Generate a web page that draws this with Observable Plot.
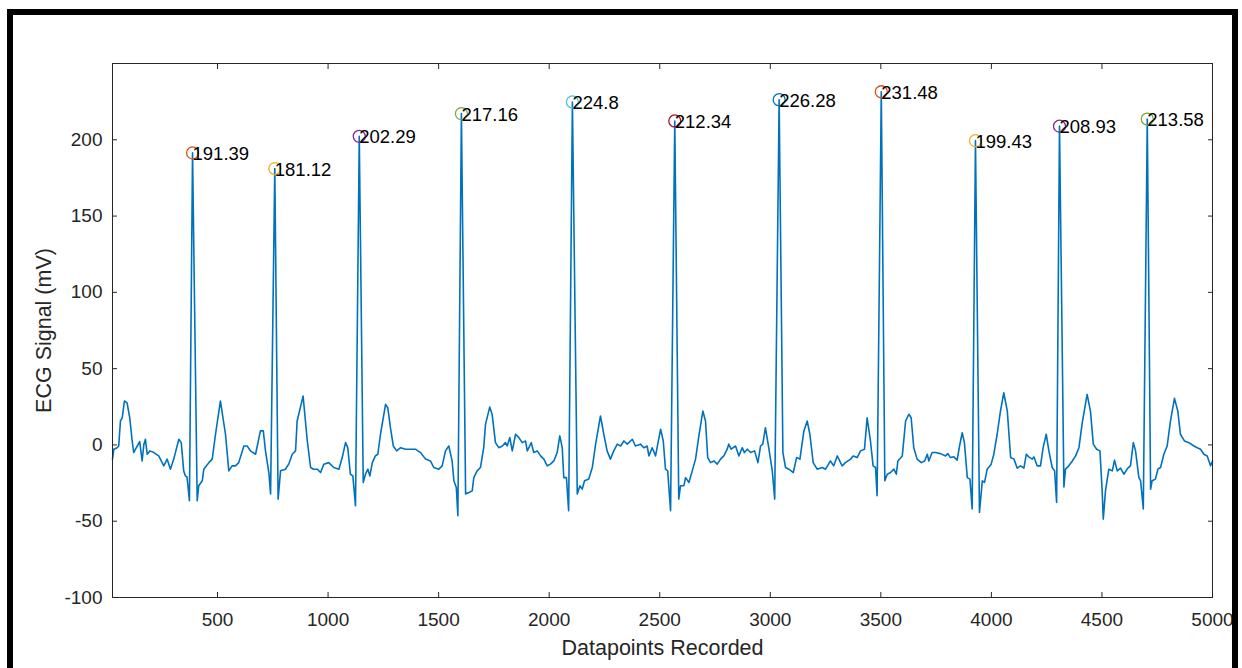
<!DOCTYPE html>
<html><head><meta charset="utf-8">
<script src="https://cdn.jsdelivr.net/npm/d3@7"></script>
<script src="https://cdn.jsdelivr.net/npm/@observablehq/plot@0.6"></script>
<style>
html,body{margin:0;padding:0;background:#fff;width:1242px;height:668px;overflow:hidden}
#chart{position:absolute;left:0;top:0}
#frame{position:absolute;left:7px;top:9px;width:1219px;height:700px;border:6px solid #000;border-bottom:none;pointer-events:none;z-index:2}
</style></head><body>
<div id="chart"></div><div id="frame"></div>
<script>
// ECG trace: [datapoint index, signal (mV)] vertices
const ecgTrace = [[25,-9.3],[31,-2.8],[46,-1.8],[53,-0.7],[61,15.7],[69,17.8],[79,28.8],[91,27.6],[103,17.8],[114,2.6],[121,-5],[129,-2.8],[137,-0.7],[148,2.2],[159,-10.5],[167,0.5],[174,3.7],[182,-6.1],[194,-3.9],[212,-5],[234,-7.2],[257,-13.7],[272,-9.3],[287,-15.9],[302,-9.3],[325,3.7],[336,1.5],[347,-17],[355,-20.3],[362,-21],[373,-36.6],[387,191.39],[408,-36.6],[415,-26.8],[431,-23.5],[438,-15.9],[450,-13.7],[461,-11.6],[476,-9.3],[491,7],[513,28.8],[536,7],[551,-17],[566,-13.7],[581,-13.7],[596,-11.6],[619,-0.7],[634,-0.7],[649,-3.9],[672,-6.1],[694,9.2],[707,9.2],[717,-3.9],[732,-18.1],[740,-32.2],[759,181.12],[774,-35.5],[785,-17],[807,-15.9],[822,-12.6],[838,-6.1],[853,-3.9],[860,15.7],[887,32],[906,2.6],[921,-14.8],[935,-15.9],[951,-15.9],[966,-18.1],[981,-12.6],[1003,-11.6],[1026,-14.8],[1049,-15.9],[1064,-8.3],[1079,1.5],[1089,-1.8],[1101,-19.2],[1112,-20.3],[1124,-39.9],[1141,202.29],[1159,-24.6],[1169,-19.2],[1180,-15.9],[1189,-20.3],[1200,-11.6],[1214,-7.2],[1225,-6.1],[1237,7],[1260,26.6],[1270,24.4],[1282,11.3],[1295,-0.7],[1310,-3.9],[1328,-1.8],[1350,-2.8],[1373,-2.8],[1395,-2.8],[1418,-5],[1441,-9.3],[1463,-10.5],[1478,-14.8],[1501,-15.9],[1516,-13.7],[1531,-3.9],[1546,-0.7],[1561,-10.5],[1569,-23.5],[1580,-27.9],[1587,-46.4],[1603,217.16],[1622,-32.2],[1637,-31.2],[1652,-30.1],[1659,-21.4],[1674,-17],[1689,-14.8],[1704,-1.8],[1712,13.5],[1731,24.8],[1742,20],[1757,1.5],[1772,-1.8],[1788,-0.7],[1802,1.5],[1810,-0.7],[1822,4.8],[1833,-3.9],[1848,7],[1863,4.8],[1878,1.5],[1893,2.6],[1901,-3.9],[1919,1.5],[1930,-5],[1946,-3.9],[1961,-7.2],[1976,-9.3],[1991,-13.7],[2006,-12.6],[2021,-10.5],[2036,-5],[2048,5.9],[2059,-1.8],[2066,-21.4],[2078,-21.4],[2088,-43.1],[2105,224.8],[2127,-32.2],[2139,-26.8],[2149,-29],[2160,-23.5],[2179,-22.4],[2195,-14.8],[2210,0.5],[2232,19],[2247,7],[2262,-3.9],[2277,-9.3],[2292,-3.9],[2308,0.5],[2323,-0.7],[2338,2.6],[2353,0.5],[2376,3.7],[2390,-0.7],[2413,0.5],[2428,-1.8],[2443,-0.7],[2451,-7.2],[2466,-1.8],[2481,-7.2],[2504,10.3],[2516,2.6],[2526,-15.9],[2536,-17],[2549,-43.1],[2568,212.34],[2586,-35.5],[2594,-26.8],[2609,-26.8],[2617,-21.4],[2632,-24.6],[2647,-17],[2662,-9.3],[2677,5.9],[2695,22.2],[2707,15.7],[2717,-8.3],[2730,-11.6],[2745,-10.5],[2760,-12.6],[2775,-9.3],[2790,-7.2],[2805,-2.8],[2812,0.5],[2823,-2.8],[2843,-0.7],[2858,-7.2],[2873,-1.8],[2883,-5],[2896,-2.8],[2911,-5],[2929,-3.9],[2944,-11.6],[2956,-0.7],[2966,0.5],[2978,11.3],[2993,-1.8],[3009,-17],[3020,-35.5],[3040,226.28],[3057,-5],[3069,-14.8],[3084,-15.9],[3104,-18.1],[3119,-8.3],[3134,-9.3],[3152,9.2],[3167,15.7],[3179,7],[3194,-11.6],[3212,-15.9],[3235,-14.8],[3250,-15.9],[3272,-10.5],[3287,-13.7],[3303,-7.2],[3325,-13.7],[3340,-11.6],[3363,-9.3],[3375,-7.2],[3393,-8.3],[3408,-3.9],[3426,-2.8],[3438,17.8],[3453,2.6],[3465,-13.7],[3476,-14.8],[3483,-33.3],[3502,231.48],[3518,-23.5],[3529,-19.2],[3544,-18.1],[3559,-15.9],[3570,-19.2],[3577,-10.5],[3597,-7.2],[3612,15.7],[3627,20.1],[3637,17.8],[3649,-1.8],[3664,-9.3],[3683,-11.6],[3698,-10.5],[3710,-6.1],[3717,-10.5],[3732,-5],[3747,-5],[3770,-5.7],[3793,-7.2],[3803,-5.7],[3815,-8.3],[3830,-7.8],[3845,-10],[3856,-0.7],[3868,8],[3878,1.5],[3891,-21.4],[3903,-22.4],[3913,-42],[3928,199.43],[3946,-44.2],[3959,-23.5],[3969,-24.6],[3981,-15.9],[3999,-12.6],[4011,-6.1],[4026,7],[4041,22.2],[4056,34.2],[4072,22.2],[4087,-8.3],[4102,-9.3],[4117,-15.2],[4132,-13.7],[4147,-15.2],[4158,-6.1],[4169,-7.8],[4185,-9.3],[4192,-7.8],[4207,-13.7],[4222,-13.7],[4234,-1.8],[4248,7],[4260,-3.9],[4275,-14.8],[4286,-17],[4295,-37.7],[4308,208.93],[4328,-27.5],[4335,-15.9],[4350,-13.7],[4366,-10.5],[4381,-7.2],[4396,-1.8],[4411,14.6],[4433,33.1],[4448,22.2],[4461,0.5],[4476,-2.8],[4491,-3.9],[4501,-30.1],[4506,-48.6],[4516,-30.1],[4531,-15.9],[4547,-17],[4557,-10],[4569,-17],[4584,-15.2],[4599,-19.2],[4617,-15.2],[4629,-13.7],[4642,1.5],[4652,-3.9],[4667,-21.4],[4675,-23.5],[4687,-42],[4705,213.58],[4720,-29],[4727,-23.5],[4742,-22.4],[4753,-15.9],[4765,-14.8],[4780,-6.1],[4795,-0.7],[4810,15.7],[4828,30.5],[4843,22.2],[4855,7],[4873,2.6],[4893,1.5],[4916,-0.7],[4931,-1.8],[4946,-2.8],[4961,-6.1],[4976,-7.2],[4991,-13.7],[5000,-10.5]];

// R peaks
const peakX = [387, 759, 1141, 1603, 2105, 2568, 3040, 3502, 3928, 4308, 4705];
const peakY = [191.39, 181.12, 202.29, 217.16, 224.8, 212.34, 226.28, 231.48, 199.43, 208.93, 213.58];
const peakLabels = ["191.39","181.12","202.29","217.16","224.8","212.34","226.28","231.48","199.43","208.93","213.58"];

// Axis ticks
const xTicks = [500, 1000, 1500, 2000, 2500, 3000, 3500, 4000, 4500, 5000];
const yTicks = [-100, -50, 0, 50, 100, 150, 200];

const xTitle = "Datapoints Recorded";
const yTitle = "ECG Signal (mV)";

// MATLAB default colour order (line uses the first, peak markers the rest in turn)
const colorOrder = ["#0072BD","#D95319","#EDB120","#7E2F8E","#77AC30","#4DBEEE","#A2142F"];

const peaks = peakX.map((x, i) => ({x, y: peakY[i], label: peakLabels[i], color: colorOrder[(i + 1) % colorOrder.length]}));
const axisColor = "#262626";
const font = "'Liberation Sans', Arial, Helvetica, sans-serif";

const chart = Plot.plot({
  width: 1242,
  height: 668,
  marginLeft: 112,
  marginRight: 30,
  marginTop: 63,
  marginBottom: 71,
  style: {fontFamily: font, fontSize: "19px", color: axisColor, background: "transparent"},
  x: {domain: [25, 5000]},
  y: {domain: [-100, 250]},
  marks: [
    Plot.line(ecgTrace, {x: d => d[0], y: d => d[1], stroke: colorOrder[0], strokeWidth: 1.6}),
    Plot.frame({stroke: axisColor, strokeWidth: 1}),
    Plot.axisX(xTicks, {anchor: "bottom", tickSize: -5, tickPadding: 20, label: null, stroke: axisColor, fill: axisColor, fontSize: 19, tickFormat: d => String(d)}),
    Plot.axisX(xTicks, {anchor: "top", tickSize: -5, tickFormat: () => "", label: null, stroke: axisColor}),
    Plot.axisY(yTicks, {anchor: "left", tickSize: -5, tickPadding: 15, label: null, stroke: axisColor, fill: axisColor, fontSize: 19, tickFormat: d => String(d)}),
    Plot.axisY(yTicks, {anchor: "right", tickSize: -5, tickFormat: () => "", label: null, stroke: axisColor}),
    Plot.dot(peaks, {x: "x", y: "y", r: 6, stroke: "color", strokeWidth: 1.3, fill: "none"}),
    Plot.text(peaks, {x: "x", y: "y", text: "label", textAnchor: "start", dx: 0, dy: 1, fontSize: 18.5, fill: "#000"}),
    Plot.text([xTitle], {frameAnchor: "bottom", dy: 51, lineAnchor: "middle", textAnchor: "middle", fontSize: 21.5, fill: axisColor}),
    Plot.text([yTitle], {frameAnchor: "left", dx: -68, rotate: -90, lineAnchor: "middle", textAnchor: "middle", fontSize: 21.5, fill: axisColor})
  ]
});
document.getElementById("chart").appendChild(chart);
</script>
</body></html>
